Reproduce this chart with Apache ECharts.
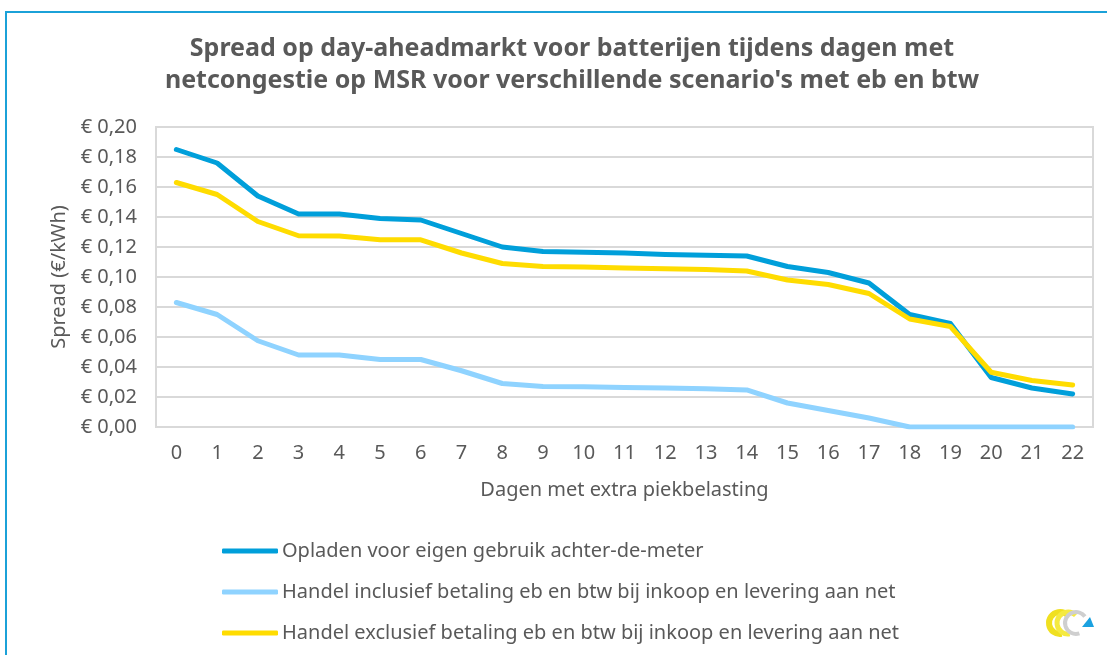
<!DOCTYPE html>
<html>
<head>
    <meta charset="utf-8">
    <title>Spread op day-aheadmarkt</title>
    <script src="https://cdn.jsdelivr.net/npm/echarts@6/dist/echarts.min.js"></script>
    <style>
        html, body { margin: 0; padding: 0; background: #fff; }
        #chart { width: 1107px; height: 655px; }
    </style>
</head>
<body>
<div id="chart"></div>
<script>
    // dagen met extra piekbelasting
    var days = ['0', '1', '2', '3', '4', '5', '6', '7', '8', '9', '10', '11',
        '12', '13', '14', '15', '16', '17', '18', '19', '20', '21', '22'];

    // Opladen voor eigen gebruik achter-de-meter
    var eigenGebruik = [0.185, 0.176, 0.154, 0.142, 0.142, 0.139, 0.138, 0.129, 0.120, 0.117,
        0.1165, 0.116, 0.115, 0.1145, 0.114, 0.107, 0.103, 0.096, 0.075, 0.069, 0.033, 0.026, 0.022];

    // Handel inclusief betaling eb en btw
    var handelIncl = [0.083, 0.075, 0.0575, 0.048, 0.048, 0.045, 0.045, 0.0375, 0.029, 0.027,
        0.0268, 0.0263, 0.026, 0.0255, 0.0247, 0.016, 0.011, 0.006, 0, 0, 0, 0, 0];

    // Handel exclusief betaling eb en btw
    var handelExcl = [0.163, 0.155, 0.137, 0.1275, 0.1273, 0.1248, 0.1248, 0.116, 0.109, 0.107,
        0.1067, 0.106, 0.1055, 0.105, 0.104, 0.098, 0.095, 0.089, 0.072, 0.067, 0.0365, 0.031, 0.028];

    var seriesNames = [
        'Opladen voor eigen gebruik achter-de-meter',
        'Handel inclusief betaling eb en btw bij inkoop en levering aan net',
        'Handel exclusief betaling eb en btw bij inkoop en levering aan net'
    ];

    var font = 'Noto Sans';
    var grey = '#595959';

    var chart = echarts.init(document.getElementById('chart'));

    function lineSeries(name, data, color) {
        return {
            name: name,
            type: 'line',
            data: data,
            symbol: 'none',
            lineStyle: {color: color, width: 5, cap: 'round', join: 'round'},
            itemStyle: {color: color}
        };
    }

    chart.setOption({
        animation: false,
        textStyle: {fontFamily: font},
        title: {
            text: 'Spread op day-aheadmarkt voor batterijen tijdens dagen met\nnetcongestie op MSR voor verschillende scenario\'s met eb en btw',
            left: 567,
            textAlign: 'center',
            top: 28,
            textStyle: {
                fontFamily: font,
                fontSize: 25,
                fontWeight: 'bold',
                color: grey,
                lineHeight: 32
            }
        },
        grid: {left: 156, right: 14, top: 127, bottom: 228, show: true, borderColor: '#d9d9d9', borderWidth: 2},
        xAxis: {
            type: 'category',
            data: days,
            boundaryGap: true,
            name: 'Dagen met extra piekbelasting',
            nameLocation: 'middle',
            nameGap: 53,
            nameTextStyle: {fontSize: 20, color: grey},
            axisLine: {lineStyle: {color: '#d9d9d9', width: 2}},
            axisTick: {show: false},
            axisLabel: {fontSize: 20, color: grey, margin: 16}
        },
        yAxis: {
            type: 'value',
            min: 0,
            max: 0.2,
            interval: 0.02,
            name: 'Spread (€/kWh)',
            nameLocation: 'middle',
            nameGap: 84,
            nameTextStyle: {fontSize: 20, color: grey},
            axisLine: {show: true, lineStyle: {color: '#d9d9d9', width: 2}},
            splitLine: {lineStyle: {color: '#d9d9d9', width: 2}},
            axisLabel: {
                fontSize: 20,
                color: grey,
                margin: 19,
                formatter: function (v) {
                    return '€ ' + v.toFixed(2).replace('.', ',');
                }
            }
        },
        legend: {
            orient: 'vertical',
            left: 217,
            top: 536,
            itemWidth: 56,
            itemHeight: 5,
            itemGap: 21,
            icon: 'roundRect',
            textStyle: {fontSize: 20, color: grey, padding: [0, 0, 0, -1]},
            data: seriesNames
        },
        series: [
            lineSeries(seriesNames[0], eigenGebruik, '#009fda'),
            lineSeries(seriesNames[1], handelIncl, '#8fd3ff'),
            lineSeries(seriesNames[2], handelExcl, '#ffdc00')
        ],
        graphic: [
            // blauwe kaderlijn
            {type: 'polyline', shape: {points: [[6, 655], [6, 12], [1107, 12]]}, style: {stroke: '#1ba1d8', lineWidth: 2, fill: null}},
            // logo
            {type: 'arc', shape: {cx: 1060, cy: 623, r: 11, startAngle: Math.PI * 0.45, endAngle: Math.PI * 1.75}, style: {stroke: '#f0e020', lineWidth: 6, fill: null}},
            {type: 'arc', shape: {cx: 1068, cy: 623, r: 11, startAngle: Math.PI * 0.45, endAngle: Math.PI * 1.75}, style: {stroke: '#f5ea40', lineWidth: 5, fill: null}},
            {type: 'arc', shape: {cx: 1076, cy: 623, r: 11, startAngle: Math.PI * 0.4, endAngle: Math.PI * 1.8}, style: {stroke: '#cfcfcf', lineWidth: 4, fill: null}},
            {type: 'polygon', shape: {points: [[1082, 627], [1094, 627], [1090, 617]]}, style: {fill: '#1ba1e0'}}
        ]
    });
</script>
</body>
</html>
